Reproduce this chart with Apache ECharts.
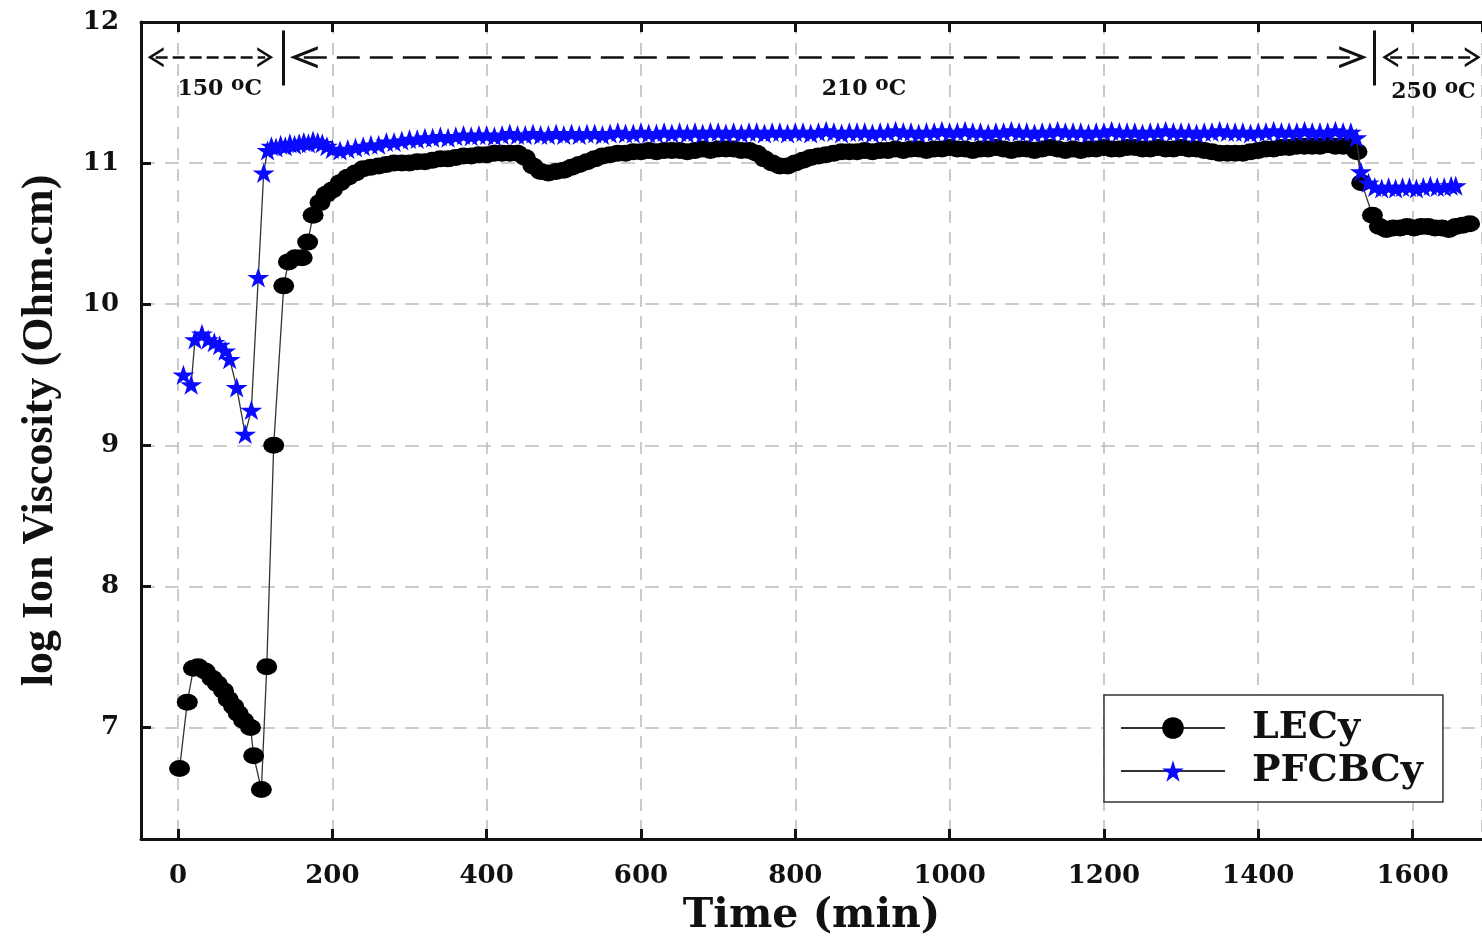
<!DOCTYPE html>
<html>
<head>
<meta charset="utf-8">
<script src="https://cdn.jsdelivr.net/npm/echarts@6/dist/echarts.min.js"></script>
<style>
html,body{margin:0;padding:0;background:#fff;}
#chart{width:1482px;height:942px;}
</style>
</head>
<body>
<div id="chart"></div>
<script>
// ---------- DATA ----------
const seriesNames = ['LECy', 'PFCBCy'];
const xTickLabels = ['0', '200', '400', '600', '800', '1000', '1200', '1400', '1600'];
const yTickLabels = ['7', '8', '9', '10', '11', '12'];
const zoneLabels = ['150', '210', '250'];

// LECy, start-up region (min, log ion viscosity)
const lecyTimeStart = [2, 12, 20, 26, 35, 44, 51, 59, 65, 72, 78, 85, 94, 98, 108, 115, 124, 137, 143, 152, 161, 168, 175, 184, 192];
const lecyValueStart = [6.71, 7.18, 7.42, 7.43, 7.40, 7.35, 7.31, 7.26, 7.20, 7.15, 7.10, 7.05, 7.00, 6.80, 6.56, 7.43, 9.00, 10.13, 10.30, 10.33, 10.33, 10.44, 10.63, 10.72, 10.78];

// PFCBCy, start-up region
const pfcTimeStart = [7, 17, 22, 31, 39, 47, 54, 61, 67, 76, 87, 95, 104, 111, 116, 121, 127, 133, 139, 145, 151, 157, 163, 169, 175, 181, 187, 193];
const pfcValueStart = [9.50, 9.43, 9.75, 9.79, 9.75, 9.73, 9.71, 9.67, 9.61, 9.41, 9.08, 9.25, 10.19, 10.93, 11.09, 11.12, 11.11, 11.13, 11.12, 11.14, 11.13, 11.14, 11.15, 11.14, 11.16, 11.15, 11.14, 11.12];

// 210 C plateau, common sampling times
const timeMain = [
  200, 210, 220, 230, 240, 250, 260, 270, 280, 290,
  300, 310, 320, 330, 340, 350, 360, 370, 380, 390,
  400, 410, 420, 430, 440, 450, 460, 470, 480, 490,
  500, 510, 520, 530, 540, 550, 560, 570, 580, 590,
  600, 610, 620, 630, 640, 650, 660, 670, 680, 690,
  700, 710, 720, 730, 740, 750, 760, 770, 780, 790,
  800, 810, 820, 830, 840, 850, 860, 870, 880, 890,
  900, 910, 920, 930, 940, 950, 960, 970, 980, 990,
  1000, 1010, 1020, 1030, 1040, 1050, 1060, 1070, 1080, 1090,
  1100, 1110, 1120, 1130, 1140, 1150, 1160, 1170, 1180, 1190,
  1200, 1210, 1220, 1230, 1240, 1250, 1260, 1270, 1280, 1290,
  1300, 1310, 1320, 1330, 1340, 1350, 1360, 1370, 1380, 1390,
  1400, 1410, 1420, 1430, 1440, 1450, 1460, 1470, 1480, 1490,
  1500, 1510, 1520
];
const lecyValueMain = [
  10.81, 10.86, 10.90, 10.93, 10.96, 10.97, 10.98, 10.99, 11.00, 11.00,
  11.00, 11.01, 11.01, 11.02, 11.03, 11.03, 11.04, 11.05, 11.05, 11.06,
  11.06, 11.07, 11.07, 11.07, 11.07, 11.04, 10.98, 10.94, 10.93, 10.94,
  10.95, 10.97, 10.99, 11.01, 11.03, 11.05, 11.06, 11.07, 11.07, 11.08,
  11.08, 11.09, 11.08, 11.09, 11.09, 11.09, 11.08, 11.09, 11.10, 11.09,
  11.10, 11.10, 11.10, 11.09, 11.09, 11.07, 11.03, 11.00, 10.98, 10.98,
  11.00, 11.02, 11.04, 11.05, 11.06, 11.07, 11.08, 11.08, 11.08, 11.09,
  11.08, 11.09, 11.09, 11.10, 11.09, 11.10, 11.10, 11.09, 11.10, 11.10,
  11.11, 11.10, 11.10, 11.09, 11.10, 11.10, 11.11, 11.10, 11.09, 11.10,
  11.10, 11.09, 11.10, 11.11, 11.10, 11.09, 11.10, 11.09, 11.10, 11.10,
  11.11, 11.10, 11.10, 11.11, 11.11, 11.10, 11.10, 11.11, 11.10, 11.10,
  11.11, 11.10, 11.10, 11.09, 11.08, 11.07, 11.07, 11.07, 11.07, 11.08,
  11.09, 11.10, 11.10, 11.11, 11.11, 11.12, 11.12, 11.12, 11.12, 11.13,
  11.12, 11.12, 11.12
];
const pfcValueMain = [
  11.10, 11.09, 11.10, 11.11, 11.12, 11.13, 11.13, 11.15, 11.15, 11.16,
  11.17, 11.17, 11.18, 11.18, 11.19, 11.18, 11.19, 11.20, 11.19, 11.20,
  11.20, 11.19, 11.20, 11.21, 11.20, 11.20, 11.21, 11.20, 11.20, 11.21,
  11.20, 11.21, 11.20, 11.21, 11.21, 11.20, 11.21, 11.22, 11.21, 11.21,
  11.22, 11.21, 11.21, 11.22, 11.21, 11.22, 11.21, 11.22, 11.21, 11.22,
  11.22, 11.21, 11.22, 11.21, 11.22, 11.22, 11.21, 11.22, 11.22, 11.21,
  11.22, 11.22, 11.21, 11.22, 11.23, 11.22, 11.21, 11.22, 11.22, 11.22,
  11.21, 11.22, 11.22, 11.23, 11.22, 11.22, 11.21, 11.22, 11.22, 11.23,
  11.22, 11.22, 11.23, 11.22, 11.22, 11.21, 11.22, 11.22, 11.23, 11.22,
  11.22, 11.21, 11.22, 11.22, 11.23, 11.22, 11.22, 11.22, 11.21, 11.22,
  11.22, 11.23, 11.22, 11.22, 11.22, 11.21, 11.22, 11.22, 11.23, 11.22,
  11.22, 11.22, 11.21, 11.22, 11.22, 11.23, 11.22, 11.22, 11.22, 11.21,
  11.22, 11.22, 11.23, 11.22, 11.22, 11.22, 11.23, 11.22, 11.22, 11.22,
  11.23, 11.22, 11.22
];

// 250 C region
const lecyTimeEnd = [1528, 1534, 1548, 1557, 1566, 1575, 1584, 1593, 1602, 1611, 1620, 1629, 1638, 1647, 1656, 1665, 1674];
const lecyValueEnd = [11.08, 10.86, 10.63, 10.55, 10.53, 10.54, 10.54, 10.55, 10.54, 10.55, 10.55, 10.54, 10.54, 10.53, 10.55, 10.56, 10.57];
const pfcTimeEnd = [1527, 1533, 1543, 1551, 1560, 1569, 1578, 1587, 1596, 1605, 1614, 1623, 1632, 1641, 1650, 1656];
const pfcValueEnd = [11.18, 10.94, 10.86, 10.83, 10.82, 10.83, 10.82, 10.83, 10.83, 10.82, 10.83, 10.84, 10.83, 10.83, 10.84, 10.84];

// ---------- BUILD ----------
function pairs(ts, vs) { return ts.map((t, i) => [t, vs[i]]); }
const lecyData = pairs(lecyTimeStart, lecyValueStart)
  .concat(pairs(timeMain, lecyValueMain))
  .concat(pairs(lecyTimeEnd, lecyValueEnd));
const pfcData = pairs(pfcTimeStart, pfcValueStart)
  .concat(pairs(timeMain, pfcValueMain))
  .concat(pairs(pfcTimeEnd, pfcValueEnd));

const SERIF = "'DejaVu Serif', 'Liberation Serif', serif";
const TIMES = "'Liberation Serif', 'Times New Roman', serif";
const starPath = 'path://M50,0 L61.23,34.55 L97.55,34.55 L68.16,55.9 L79.39,90.45 L50,69.1 L20.61,90.45 L31.84,55.9 L2.45,34.55 L38.77,34.55 Z';
const chevron = 'path://M0,20 L10,0 L20,20 L17,20 L10,6 L3,20 Z';

const arrowY = 11.75;
// endpoints are the chevron centres (the chevron tips sit half a symbol further out)
function arrow(x0, x1, dash, size) {
  const ls = { color: '#111', width: 2.6, type: dash };
  return [
    { coord: [x0, arrowY], symbol: chevron, symbolSize: size, lineStyle: ls },
    { coord: [x1, arrowY], symbol: chevron, symbolSize: size, lineStyle: ls }
  ];
}
function bar(x) {
  const ls = { color: '#111', width: 3, type: 'solid' };
  return [
    { coord: [x, 11.55], symbol: 'none', lineStyle: ls },
    { coord: [x, 11.94], symbol: 'none', lineStyle: ls }
  ];
}
function zoneLabel(txt, x, y) {
  return {
    coord: [x, y], value: txt,
    label: { formatter: '{a|' + txt + ' }{b|o}{a|C}' }
  };
}

const chart = echarts.init(document.getElementById('chart'), null, { renderer: 'canvas' });

const axisLineStyle = { color: '#111', width: 3 };
const option = {
  animation: false,
  backgroundColor: '#ffffff',
  grid: { left: 141, right: 0, top: 22, bottom: 101, containLabel: false },
  legend: {
    data: seriesNames,
    orient: 'vertical',
    left: 1104, top: 695,
    padding: [13, 20, 11, 16],
    itemGap: 3,
    itemWidth: 104,
    itemHeight: 27,
    backgroundColor: '#ffffff',
    borderColor: '#333',
    borderWidth: 1.5,
    borderRadius: 0,
    textStyle: {
      fontFamily: SERIF, fontWeight: 'bold', fontSize: 38, color: '#111',
      lineHeight: 40, padding: [0, 0, 0, 22]
    }
  },
  xAxis: [{
    type: 'value', min: -48, max: 1690, splitNumber: 9,
    position: 'bottom',
    name: 'Time (min)', nameLocation: 'middle', nameGap: 57,
    nameTextStyle: { fontFamily: SERIF, fontWeight: 'bold', fontSize: 41, color: '#111' },
    axisLine: { show: true, onZero: false, lineStyle: axisLineStyle },
    axisTick: { show: true, inside: true, length: 10, lineStyle: { color: '#111', width: 3 } },
    axisLabel: {
      show: true, margin: 24, showMinLabel: false, showMaxLabel: false,
      fontFamily: SERIF, fontWeight: 'bold', fontSize: 26, color: '#111',
      formatter: v => (xTickLabels.indexOf(String(v)) >= 0 ? String(v) : '')
    },
    splitLine: { show: true, lineStyle: { color: '#bdbdbd', width: 1.6, type: [12, 9] } }
  }, {
    type: 'value', min: -48, max: 1690, splitNumber: 9,
    position: 'top',
    axisLine: { show: true, onZero: false, lineStyle: axisLineStyle },
    axisTick: { show: true, inside: true, length: 10, lineStyle: { color: '#111', width: 3 } },
    axisLabel: { show: false },
    splitLine: { show: false }
  }],
  yAxis: [{
    type: 'value', min: 6.21, max: 12, splitNumber: 6,
    name: 'log Ion Viscosity (Ohm.cm)', nameLocation: 'middle', nameGap: 78, nameRotate: 90,
    nameTextStyle: { fontFamily: TIMES, fontWeight: 'bold', fontSize: 44, color: '#111' },
    axisLine: { show: true, onZero: false, lineStyle: axisLineStyle },
    axisTick: { show: true, inside: true, length: 10, lineStyle: { color: '#111', width: 3 } },
    axisLabel: {
      show: true, margin: 22, showMinLabel: false,
      fontFamily: SERIF, fontWeight: 'bold', fontSize: 26, color: '#111',
      formatter: v => (yTickLabels.indexOf(String(v)) >= 0 ? String(v) : '')
    },
    splitLine: { show: true, lineStyle: { color: '#bdbdbd', width: 1.6, type: [14, 10] } }
  }],
  series: [{
    name: seriesNames[0],
    type: 'line',
    data: lecyData,
    symbol: 'circle',
    symbolSize: [21, 17],
    showAllSymbol: true,
    itemStyle: { color: '#000' },
    lineStyle: { color: '#333', width: 1.3 },
    z: 3
  }, {
    name: seriesNames[1],
    type: 'line',
    data: pfcData,
    symbol: starPath,
    symbolSize: [22, 20],
    showAllSymbol: true,
    itemStyle: { color: '#0a0aff' },
    lineStyle: { color: '#333', width: 1.3 },
    z: 4
  }, {
    name: 'annotations',
    type: 'line',
    data: [],
    silent: true,
    z: 6,
    markLine: {
      silent: true, animation: false,
      symbol: ['none', 'none'],
      label: { show: false },
      emphasis: { disabled: true },
      data: [
        arrow(-29, 113, [12, 5], [20, 16]),
        arrow(163, 1523, [23, 10], [22, 28]),
        arrow(1571, 1678, [12, 5], [20, 16]),
        bar(136),
        bar(1550)
      ]
    },
    markPoint: {
      silent: true, animation: false,
      symbol: 'circle', symbolSize: 1,
      itemStyle: { color: 'rgba(0,0,0,0)' },
      label: {
        show: true, position: 'inside',
        rich: {
          a: { fontFamily: SERIF, fontWeight: 'bold', fontSize: 22, color: '#111', lineHeight: 30 },
          b: { fontFamily: SERIF, fontWeight: 'bold', fontSize: 20, color: '#111', lineHeight: 18, verticalAlign: 'top' }
        }
      },
      data: [
        zoneLabel(zoneLabels[0], 54, 11.52),
        zoneLabel(zoneLabels[1], 889, 11.52),
        zoneLabel(zoneLabels[2], 1627, 11.50)
      ]
    }
  }]
};
chart.setOption(option);
</script>
</body>
</html>
